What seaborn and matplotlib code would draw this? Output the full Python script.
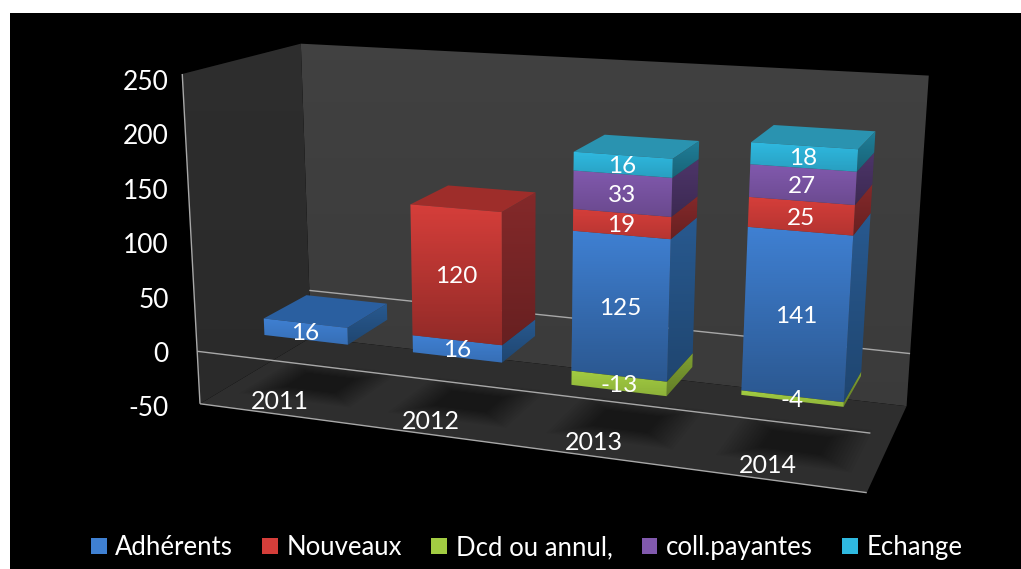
# -*- coding: utf-8 -*-
"""Barres empilées en fausse 3D : adhérents 2011-2014"""
import numpy as np
import matplotlib
matplotlib.use("Agg")
import matplotlib.pyplot as plt
import matplotlib.transforms as mtransforms
from matplotlib.patches import Patch, Polygon
import seaborn as sns

years = ["2011", "2012", "2013", "2014"]
adherents = [16, 16, 125, 141]
nouveaux = [0, 120, 19, 25]
dcd = [0, 0, -13, -4]
coll_payantes = [0, 0, 33, 27]
echange = [0, 0, 16, 18]
series_names = ["Adhérents", "Nouveaux", "Dcd ou annul,", "coll.payantes", "Echange"]
y_ticks = [250, 200, 150, 100, 50, 0, -50]

# face, côté, dessus
colors = {
    "Adhérents": ("#3f80d2", "#28598f", "#2a5fa0"),
    "Nouveaux": ("#d53e3a", "#84292a", "#9e2d2a"),
    "Dcd ou annul,": ("#a2cc42", "#7ea032", "#8fb23a"),
    "coll.payantes": ("#8159ad", "#4d3569", "#5c3f80"),
    "Echange": ("#2fb9e0", "#1f7e98", "#2a93b0"),
}

sns.set_theme(style="dark")
plt.rcParams["font.family"] = ["Lato", "DejaVu Sans"]

BAR_W = 0.57
D_FRONT, D_BACK = 0.30, 0.69
VMIN, VMAX = -50, 250

# coins du cube du graphique dans l'image (u, valeur, profondeur) -> pixels
cube = [
    ((0, 0, 0), (200, 404)), ((1, 0, 0), (865, 492)),
    ((0, 1, 0), (182, 75)), ((1, 1, 0), (892, 115)),
    ((0, 0, 1), (311, 337)), ((1, 0, 1), (908, 407)),
    ((0, 1, 1), (301, 43)), ((1, 1, 1), (927, 76)),
]


def fit_camera():
    rows = []
    for (u, w, d), (px, py) in cube:
        X = [u, w, d, 1]
        rows.append(X + [0, 0, 0, 0] + [-px * c for c in X])
        rows.append([0, 0, 0, 0] + X + [-py * c for c in X])
    return np.linalg.svd(np.array(rows, dtype=float))[2][-1].reshape(3, 4)


CAM = fit_camera()


def project(cat, val, depth):
    cat, val, depth = np.broadcast_arrays(np.asarray(cat, float), np.asarray(val, float), np.asarray(depth, float))
    X = np.stack([(cat + 0.5) / 4, (val - VMIN) / (VMAX - VMIN), depth, np.ones_like(cat)], axis=-1)
    p = X @ CAM.T
    return p[..., :2] / p[..., 2:]


class Camera(mtransforms.Transform):
    input_dims = output_dims = 2
    is_separable = False
    has_inverse = False

    def __init__(self, plane):
        super().__init__()
        self.plane = plane

    def transform_non_affine(self, values):
        values = np.asarray(values, float)
        return project(values[:, 0], values[:, 1], self.plane)


def shade(poly, a0, a1, z):
    """assombrit un polygone du haut vers le bas"""
    poly = np.asarray(poly)
    grad = np.zeros((64, 1, 4))
    grad[:, 0, 3] = np.linspace(a0, a1, 64)
    im = ax.imshow(grad, extent=(poly[:, 0].min(), poly[:, 0].max(), poly[:, 1].max(), poly[:, 1].min()),
                   origin="upper", aspect="auto", interpolation="bilinear", zorder=z)
    im.set_clip_path(Polygon(poly, closed=True, transform=ax.transData))


def face(corners, color, a0=0.0, a1=0.0, z=3):
    c = np.array(corners, float)
    poly = project(c[:, 0], c[:, 1], c[:, 2])
    ax.fill(poly[:, 0], poly[:, 1], color=color, lw=0, zorder=z)
    if a0 or a1:
        shade(poly, a0, a1, z + 0.1)


def edge(p, q, color="#a8a8a8", lw=1.0, z=2):
    a, b = project(*p), project(*q)
    ax.plot([a[0], b[0]], [a[1], b[1]], color=color, lw=lw, zorder=z, solid_capstyle="butt")


fig = plt.figure(figsize=(10.21, 5.69), dpi=100, facecolor="white")
ax = fig.add_axes([10 / 1021, 0, 1011 / 1021, 556 / 569], facecolor="black")

values = [adherents, nouveaux, dcd, coll_payantes, echange]
bottoms = []
pos = np.zeros(4)
neg = np.zeros(4)
for vals in values:
    v = np.array(vals, float)
    bottoms.append(np.where(v < 0, neg + v, pos))
    pos = pos + np.where(v > 0, v, 0)
    neg = neg + np.where(v < 0, v, 0)

for name, vals, bot in zip(series_names, values, bottoms):
    sns.barplot(x=years, y=np.abs(vals), bottom=bot, color=colors[name][0], saturation=1,
                width=BAR_W, errorbar=None, order=years, ax=ax)
bars = [p for p in ax.patches]

# à partir d'ici les données de l'axe sont les pixels de l'image
ax.set(xlabel="", ylabel="", xticks=[], yticks=[])
ax.set_xlim(10, 1021)
ax.set_ylim(569, 13)
ax.autoscale(False)
for s in ax.spines.values():
    s.set_visible(False)

for patch in bars:
    patch.set_transform(Camera(D_FRONT) + ax.transData)
    patch.set_linewidth(0)
    patch.set_zorder(4)

# murs et sol
L, R = -0.5, 3.5
face([(L, VMIN, 1), (L, VMAX, 1), (R, VMAX, 1), (R, VMIN, 1)], "#414141", 0.0, 0.1, z=1)
face([(L, VMIN, 0), (L, VMAX, 0), (L, VMAX, 1), (L, VMIN, 1)], "#303030", 0.05, 0.12, z=1)
face([(L, VMIN, 0), (L, VMIN, 1), (R, VMIN, 1), (R, VMIN, 0)], "#2e2e2e", z=1)

# ombres sur le sol, en couches pour adoucir le bord
for i in range(4):
    for grow in np.linspace(0.09, -0.12, 12):
        hw = BAR_W / 2 + grow
        dd = grow * 0.7
        c = np.array([(i - hw, VMIN, 0.24 - dd), (i - hw, VMIN, 0.6 + dd),
                      (i + hw, VMIN, 0.6 + dd), (i + hw, VMIN, 0.24 - dd)])
        poly = project(c[:, 0], c[:, 1], c[:, 2])
        ax.fill(poly[:, 0], poly[:, 1], color="black", alpha=0.04, lw=0, zorder=1.5)

# axes
edge((L, 0, 0), (R, 0, 0))
edge((L, 0, 1), (R, 0, 1))
edge((L, VMIN, 0), (R, VMIN, 0))
edge((L, VMIN, 0), (L, VMAX, 0))

for tick in y_ticks:
    ax.text(169, 354.5 - 1.088 * tick, str(tick), color="white", fontsize=19, ha="right", va="center", zorder=6)

for i, year in enumerate(years):
    px, py = project(i - 0.07, VMIN, 0.14)
    ax.text(px, py, year, color="white", fontsize=18, ha="center", va="center", zorder=6)

# côtés, dessus, dégradés et étiquettes
hw = BAR_W / 2
for name, vals, bot in zip(series_names, values, bottoms):
    main, side, top = colors[name]
    for i, (v, b) in enumerate(zip(vals, bot)):
        if v == 0:
            continue
        x = i + hw
        face([(x, b + abs(v), D_FRONT), (x, b + abs(v), D_BACK), (x, b, D_BACK), (x, b, D_FRONT)], side, 0.0, 0.22)
        c = np.array([(i - hw, b, D_FRONT), (i - hw, b + abs(v), D_FRONT),
                      (i + hw, b + abs(v), D_FRONT), (i + hw, b, D_FRONT)])
        shade(project(c[:, 0], c[:, 1], c[:, 2]), 0.0, min(0.32, 0.1 + abs(v) / 400), 5)
        if b + abs(v) == pos[i]:
            y = b + abs(v)
            face([(i - hw, y, D_FRONT), (i - hw, y, D_BACK), (i + hw, y, D_BACK), (i + hw, y, D_FRONT)], top)
        px, py = project(i, b + abs(v) / 2, D_FRONT)
        ax.text(px, py + 2, str(v), color="white", fontsize=17.5, ha="center", va="center", zorder=6)

handles = [Patch(facecolor=colors[n][0], edgecolor="none") for n in series_names]
ax.legend(handles, series_names, ncol=5, loc="center", bbox_to_anchor=(0.511, 0.0387),
          frameon=False, fontsize=18.5, labelcolor="white", handlelength=0.62, handleheight=0.6,
          handletextpad=0.33, columnspacing=1.13)

fig.savefig("out.png", dpi=100)
